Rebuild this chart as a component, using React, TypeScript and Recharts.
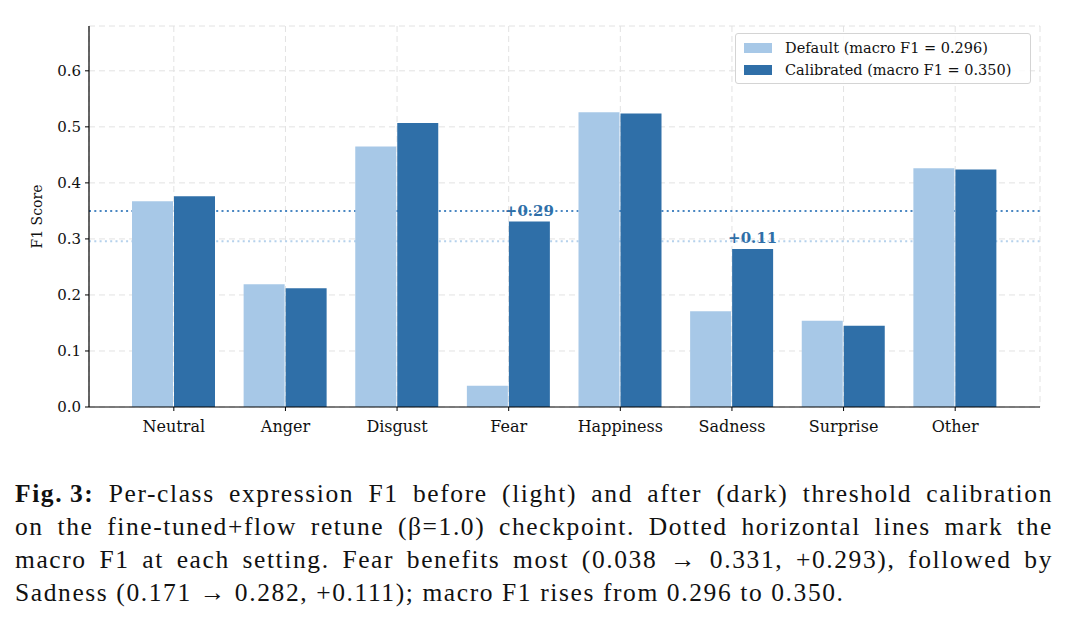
import React from 'react';
import {
  BarChart,
  Bar,
  XAxis,
  YAxis,
  CartesianGrid,
  ReferenceLine,
  LabelList,
} from 'recharts';

const categories = ['Neutral', 'Anger', 'Disgust', 'Fear', 'Happiness', 'Sadness', 'Surprise', 'Other'];
const defaultF1 = [0.367, 0.219, 0.465, 0.038, 0.526, 0.171, 0.154, 0.426];
const calibratedF1 = [0.376, 0.212, 0.507, 0.331, 0.524, 0.282, 0.145, 0.424];
const macroDefault = 0.296;
const macroCalibrated = 0.35;
// classes whose gain gets an annotation above the calibrated bar
const highlighted = ['Fear', 'Sadness'];
const yTicks = [0, 0.1, 0.2, 0.3, 0.4, 0.5, 0.6];

const LIGHT = '#a7c8e7';
const DARK = '#2f6fa8';
const SERIF = '"DejaVu Serif", serif';

const rows = categories.map((name, i) => ({
  name,
  def: defaultF1[i],
  cal: calibratedF1[i],
}));

function GainLabel(props: any) {
  const { x, y, width, index } = props;
  const name = categories[index];
  if (!highlighted.includes(name)) return null;
  const gain = calibratedF1[index] - defaultF1[index];
  return (
    <text
      x={x + width / 2}
      y={y - 6}
      textAnchor="middle"
      fontFamily={SERIF}
      fontSize={15}
      fontWeight="bold"
      fill={DARK}
    >
      {`+${gain.toFixed(2)}`}
    </text>
  );
}

function YTitle(props: any) {
  const vb = props.viewBox || { y: 26, height: 381 };
  const cy = vb.y + vb.height / 2;
  return (
    <text
      x={42}
      y={cy}
      transform={`rotate(-90, 42, ${cy})`}
      textAnchor="middle"
      fontFamily={SERIF}
      fontSize={14}
      fill="#111"
    >
      F1 Score
    </text>
  );
}

const legendItems = [
  { color: LIGHT, text: `Default (macro F1 = ${macroDefault.toFixed(3)})` },
  { color: DARK, text: `Calibrated (macro F1 = ${macroCalibrated.toFixed(3)})` },
];

const captionLines = [
  'Per-class expression F1 before (light) and after (dark) threshold calibration',
  'on the fine-tuned+flow retune (\u03b2=1.0) checkpoint. Dotted horizontal lines mark the',
  'macro F1 at each setting. Fear benefits most (0.038 \u2192 0.331, +0.293), followed by',
  'Sadness (0.171 \u2192 0.282, +0.111); macro F1 rises from 0.296 to 0.350.',
];

export default function App() {
  return (
    <div
      style={{
        position: 'absolute',
        left: 0,
        top: 0,
        width: 1068,
        height: 622,
        background: '#fff',
        overflow: 'hidden',
      }}
    >
      <BarChart
        width={1068}
        height={460}
        data={rows}
        margin={{ top: 26, right: 28, bottom: 18, left: 29 }}
        barCategoryGap={14}
        barGap={1}
      >
        <CartesianGrid strokeDasharray="6 4" stroke="#e2e2e2" />
        <XAxis
          dataKey="name"
          interval={0}
          padding={{ left: 29, right: 29 }}
          height={35}
          tickSize={4}
          tickMargin={10}
          tick={{ fontFamily: SERIF, fontSize: 16, fill: '#111' }}
          tickLine={{ stroke: '#000' }}
          axisLine={{ stroke: '#000', strokeWidth: 1.2 }}
        />
        <YAxis
          width={60}
          domain={[0, 0.68]}
          allowDataOverflow
          ticks={yTicks}
          tickFormatter={(v: number) => v.toFixed(1)}
          tickSize={4}
          tickMargin={4}
          tick={{ fontFamily: SERIF, fontSize: 15, fill: '#111' }}
          tickLine={{ stroke: '#000' }}
          axisLine={{ stroke: '#000', strokeWidth: 1.2 }}
          label={<YTitle />}
        />
        <ReferenceLine
          y={macroDefault}
          stroke="#b5d1ec"
          strokeWidth={2}
          strokeDasharray="2 3.3"
          zIndex={100}
        />
        <ReferenceLine
          y={macroCalibrated}
          stroke="#4a87c2"
          strokeWidth={2}
          strokeDasharray="2 3.3"
          zIndex={100}
        />
        <Bar dataKey="def" fill={LIGHT} isAnimationActive={false} />
        <Bar dataKey="cal" fill={DARK} isAnimationActive={false}>
          <LabelList dataKey="cal" content={GainLabel} />
        </Bar>
      </BarChart>

      {/* legend box, top right of the plot */}
      <div
        style={{
          position: 'absolute',
          left: 735,
          top: 33,
          width: 296,
          height: 51,
          boxSizing: 'border-box',
          border: '1px solid #d4d4d4',
          borderRadius: 3,
          background: 'rgba(255,255,255,0.85)',
          fontFamily: SERIF,
          fontSize: 14.5,
          color: '#111',
          padding: '3px 0 0 8px',
        }}
      >
        {legendItems.map((it) => (
          <div key={it.text} style={{ display: 'flex', alignItems: 'center', height: 22 }}>
            <span
              style={{
                display: 'inline-block',
                width: 28,
                height: 10,
                background: it.color,
                marginRight: 13,
              }}
            />
            <span>{it.text}</span>
          </div>
        ))}
      </div>

      {/* figure caption */}
      <div
        style={{
          position: 'absolute',
          left: 15,
          top: 477,
          width: 1038,
          fontFamily: '"Liberation Serif", serif',
          fontSize: 25.5,
          letterSpacing: '1.6px',
          lineHeight: '33px',
          color: '#111',
        }}
      >
        {captionLines.map((line, i) => {
          const last = i === captionLines.length - 1;
          return (
            <div
              key={i}
              style={{
                textAlign: last ? 'left' : 'justify',
                textAlignLast: last ? 'left' : 'justify',
                whiteSpace: 'nowrap',
              }}
            >
              {i === 0 && <b>Fig.&thinsp;3: </b>}
              {line}
            </div>
          );
        })}
      </div>
    </div>
  );
}
